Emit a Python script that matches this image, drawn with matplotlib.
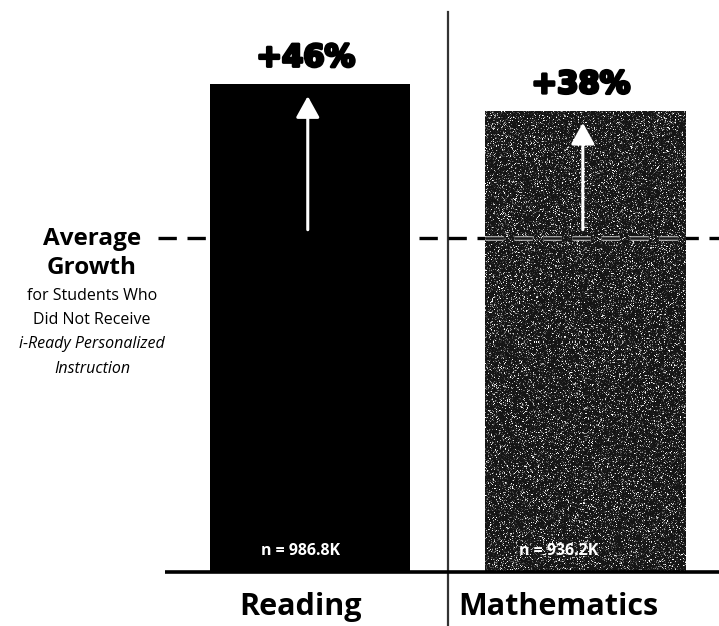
import numpy as np
import matplotlib
matplotlib.use("Agg")
import matplotlib.pyplot as plt
import matplotlib.patheffects as pe

# Growth values, relative to the average growth of non-participants (= 100)
subjects = ["Reading", "Mathematics"]
growth = [146, 138]
average_growth = 100
gain_labels = ["+46%", "+38%"]
sample_labels = ["n = 986.8K", "n = 936.2K"]
bar_colors = ["#000000", "#2e2e2e"]

side_lines = ["Average", "Growth", "for Students Who", "Did Not Receive",
              "i-Ready Personalized", "Instruction"]

W, H = 719, 626
fig = plt.figure(figsize=(W / 100, H / 100), dpi=100)
ax = fig.add_axes([165 / W, (H - 572) / H, (W - 165) / W, 560 / H])

x = np.arange(len(subjects))
ax.set_xlim(-0.527, 1.487)
ax.set_ylim(0, 167.7)
ax.axis("off")

bars = ax.bar(x, growth, width=0.73, color=bar_colors, zorder=2)

# fine speckled texture on the mathematics bar
rng = np.random.default_rng(7)
speck = rng.random((460, 200)) ** 9
img = ax.imshow(speck, cmap="gray", vmin=-0.08, vmax=0.9,
                extent=(x[1] - 0.365, x[1] + 0.365, 0, growth[1]),
                aspect="auto", zorder=2.1, interpolation="nearest")
img.set_clip_path(bars[1])

# baseline
ax.plot([-0.527, 1.487], [0, 0], color="black", lw=2.6, solid_capstyle="butt",
        zorder=4, clip_on=False)

# divider between the two subjects
ax.plot([0.5, 0.5], [-17.2, 167.7], color="#333333", lw=1.6, zorder=1, clip_on=False)

# average-growth reference line
dash_kw = dict(lw=2.4, dashes=(5.5, 3.2), color="black", clip_on=False)
ax.plot([-0.553, 1.487], [average_growth] * 2, zorder=1.5, **dash_kw)
ax.plot([x[1] - 0.365, x[1] + 0.365], [average_growth] * 2, zorder=3,
        path_effects=[pe.Stroke(linewidth=3.4, foreground="#bbbbbb"),
                      pe.Stroke(linewidth=1.8, foreground="#1a1a1a")], **dash_kw)

for i, (g, lab) in enumerate(zip(growth, gain_labels)):
    ax.annotate("", xy=(x[i] - 0.008, g - 3.5), xytext=(x[i] - 0.008, average_growth + 2.5),
                arrowprops=dict(arrowstyle="-|>,head_length=0.65,head_width=0.36",
                                color="white", lw=2.2, shrinkA=0, shrinkB=0,
                                mutation_scale=20), zorder=5)
    ax.annotate(lab, xy=(x[i], g), xytext=(-3, 13), textcoords="offset points",
                ha="center", va="baseline", fontsize=22, fontweight="bold",
                family=["DejaVu Sans"], zorder=6,
                path_effects=[pe.withStroke(linewidth=2.2, foreground="black")])

label_dx = [-7, -19]
for i, (n, s) in enumerate(zip(sample_labels, subjects)):
    ax.annotate(n, xy=(x[i], 0), xytext=(label_dx[i], 12), textcoords="offset points",
                ha="center", va="baseline", fontsize=11.5, fontweight="bold",
                color="white", family=["Open Sans", "DejaVu Sans"], zorder=6)
    ax.annotate(s, xy=(x[i], 0), xytext=(label_dx[i], -31), textcoords="offset points",
                ha="center", va="baseline", fontsize=22, fontweight="bold",
                color="black", family=["Open Sans", "DejaVu Sans"],
                annotation_clip=False)

# explanatory text next to the reference line
baselines = [245, 274, 300, 324, 348, 373]
styles = [("bold", "normal", 17.5), ("bold", "normal", 17.5),
          ("normal", "normal", 11.5), ("normal", "normal", 11.5),
          ("normal", "italic", 11.5), ("normal", "italic", 11.5)]
for line, yb, (wt, st, sz) in zip(side_lines, baselines, styles):
    fig.text(92 / W, 1 - yb / H, line, ha="center", va="baseline", fontsize=sz,
             fontweight=wt, fontstyle=st, family=["Open Sans", "DejaVu Sans"])

fig.savefig("out.png", dpi=100)
